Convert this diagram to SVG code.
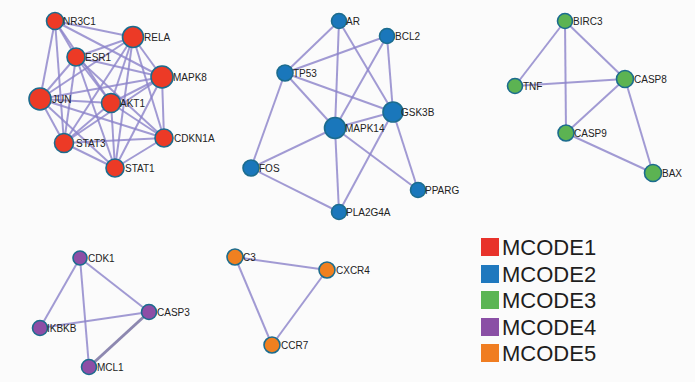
<svg xmlns="http://www.w3.org/2000/svg" width="695" height="382" viewBox="0 0 695 382">
<style>
.bg{fill:#fbfbfb}
.e{stroke:#8b82c9;stroke-width:2;stroke-opacity:0.8;fill:none}
.n{stroke:#1c6c8e;stroke-width:1.6}
.r{fill:#ec3a26}
.b{fill:#1a77bb}
.g{fill:#5cb352}
.p{fill:#8d4ea6}
.o{fill:#f08020}
.t{font-family:"Liberation Sans",Arial,sans-serif;font-size:10px;fill:#222}
.lg{font-family:"Liberation Sans",Arial,sans-serif;font-size:22px;fill:#1e1e1e}
</style>
<rect class="bg" x="0" y="0" width="695" height="382"/>
<g id="connectors">
<!-- cluster 1 -->
<line class="e" x1="55" y1="21" x2="133" y2="37"/>
<line class="e" x1="55" y1="21" x2="162" y2="77"/>
<line class="e" x1="55" y1="21" x2="40" y2="99"/>
<line class="e" x1="55" y1="21" x2="111" y2="103"/>
<line class="e" x1="55" y1="21" x2="76" y2="57"/>
<line class="e" x1="55" y1="21" x2="64" y2="143"/>
<line class="e" x1="133" y1="37" x2="76" y2="57"/>
<line class="e" x1="133" y1="37" x2="162" y2="77"/>
<line class="e" x1="133" y1="37" x2="40" y2="99"/>
<line class="e" x1="133" y1="37" x2="111" y2="103"/>
<line class="e" x1="133" y1="37" x2="64" y2="143"/>
<line class="e" x1="133" y1="37" x2="164" y2="138"/>
<line class="e" x1="133" y1="37" x2="115" y2="168"/>
<line class="e" x1="76" y1="57" x2="162" y2="77"/>
<line class="e" x1="76" y1="57" x2="40" y2="99"/>
<line class="e" x1="76" y1="57" x2="111" y2="103"/>
<line class="e" x1="76" y1="57" x2="64" y2="143"/>
<line class="e" x1="76" y1="57" x2="164" y2="138"/>
<line class="e" x1="76" y1="57" x2="115" y2="168"/>
<line class="e" x1="162" y1="77" x2="40" y2="99"/>
<line class="e" x1="162" y1="77" x2="111" y2="103"/>
<line class="e" x1="162" y1="77" x2="64" y2="143"/>
<line class="e" x1="162" y1="77" x2="164" y2="138"/>
<line class="e" x1="162" y1="77" x2="115" y2="168"/>
<line class="e" x1="40" y1="99" x2="111" y2="103"/>
<line class="e" x1="40" y1="99" x2="64" y2="143"/>
<line class="e" x1="40" y1="99" x2="115" y2="168"/>
<line class="e" x1="40" y1="99" x2="164" y2="138"/>
<line class="e" x1="111" y1="103" x2="64" y2="143"/>
<line class="e" x1="111" y1="103" x2="115" y2="168"/>
<line class="e" x1="111" y1="103" x2="164" y2="138"/>
<line class="e" x1="64" y1="143" x2="115" y2="168"/>
<line class="e" x1="64" y1="143" x2="164" y2="138"/>
<line class="e" x1="115" y1="168" x2="164" y2="138"/>
<!-- cluster 2 -->
<line class="e" x1="339" y1="21" x2="285" y2="73"/>
<line class="e" x1="339" y1="21" x2="335" y2="128"/>
<line class="e" x1="339" y1="21" x2="393" y2="112"/>
<line class="e" x1="387" y1="36" x2="285" y2="73"/>
<line class="e" x1="387" y1="36" x2="335" y2="128"/>
<line class="e" x1="387" y1="36" x2="393" y2="112"/>
<line class="e" x1="285" y1="73" x2="251" y2="168"/>
<line class="e" x1="285" y1="73" x2="335" y2="128"/>
<line class="e" x1="285" y1="73" x2="393" y2="112"/>
<line class="e" x1="335" y1="128" x2="393" y2="112"/>
<line class="e" x1="335" y1="128" x2="251" y2="168"/>
<line class="e" x1="335" y1="128" x2="339" y2="212"/>
<line class="e" x1="335" y1="128" x2="418" y2="190"/>
<line class="e" x1="393" y1="112" x2="418" y2="190"/>
<line class="e" x1="393" y1="112" x2="339" y2="212"/>
<line class="e" x1="251" y1="168" x2="339" y2="212"/>
<!-- cluster 3 -->
<line class="e" x1="565" y1="21" x2="515" y2="86"/>
<line class="e" x1="565" y1="21" x2="566" y2="133"/>
<line class="e" x1="565" y1="21" x2="625" y2="79"/>
<line class="e" x1="515" y1="86" x2="625" y2="79"/>
<line class="e" x1="625" y1="79" x2="566" y2="133"/>
<line class="e" x1="625" y1="79" x2="653" y2="173"/>
<line class="e" x1="566" y1="133" x2="653" y2="173"/>
<!-- cluster 4 -->
<line class="e" x1="80" y1="258" x2="40" y2="328"/>
<line class="e" x1="80" y1="258" x2="89" y2="367"/>
<line class="e" x1="80" y1="258" x2="149" y2="312"/>
<line class="e" x1="40" y1="328" x2="149" y2="312"/>
<line class="e" x1="149" y1="312" x2="89" y2="367" style="stroke:#726c9e;stroke-width:3"/>
<!-- cluster 5 -->
<line class="e" x1="235" y1="257" x2="327" y2="270"/>
<line class="e" x1="235" y1="257" x2="272" y2="345"/>
<line class="e" x1="327" y1="270" x2="272" y2="345"/>
</g>
<g id="n-NR3C1"><circle class="n r" cx="55" cy="21" r="8.5"/><text class="t" x="63" y="25">NR3C1</text></g>
<g id="n-RELA"><circle class="n r" cx="133" cy="37" r="10.5"/><text class="t" x="144" y="41">RELA</text></g>
<g id="n-ESR1"><circle class="n r" cx="76" cy="57" r="9"/><text class="t" x="85" y="61">ESR1</text></g>
<g id="n-MAPK8"><circle class="n r" cx="162" cy="77" r="11"/><text class="t" x="173" y="81">MAPK8</text></g>
<g id="n-JUN"><circle class="n r" cx="40" cy="99" r="11"/><text class="t" x="52" y="103">JUN</text></g>
<g id="n-AKT1"><circle class="n r" cx="111" cy="103" r="9.5"/><text class="t" x="120" y="107">AKT1</text></g>
<g id="n-STAT3"><circle class="n r" cx="64" cy="143" r="9.5"/><text class="t" x="76" y="147">STAT3</text></g>
<g id="n-CDKN1A"><circle class="n r" cx="164" cy="138" r="9"/><text class="t" x="174" y="142">CDKN1A</text></g>
<g id="n-STAT1"><circle class="n r" cx="115" cy="168" r="9"/><text class="t" x="125" y="172">STAT1</text></g>

<g id="n-AR"><circle class="n b" cx="339" cy="21" r="7.5"/><text class="t" x="346" y="25">AR</text></g>
<g id="n-BCL2"><circle class="n b" cx="387" cy="36" r="7.5"/><text class="t" x="395" y="40">BCL2</text></g>
<g id="n-TP53"><circle class="n b" cx="285" cy="73" r="8"/><text class="t" x="293" y="77">TP53</text></g>
<g id="n-GSK3B"><circle class="n b" cx="393" cy="112" r="10"/><text class="t" x="401" y="116">GSK3B</text></g>
<g id="n-MAPK14"><circle class="n b" cx="335" cy="128" r="10.5"/><text class="t" x="345" y="132">MAPK14</text></g>
<g id="n-FOS"><circle class="n b" cx="251" cy="168" r="8"/><text class="t" x="259" y="172">FOS</text></g>
<g id="n-PPARG"><circle class="n b" cx="418" cy="190" r="7.5"/><text class="t" x="425" y="194">PPARG</text></g>
<g id="n-PLA2G4A"><circle class="n b" cx="339" cy="212" r="7.5"/><text class="t" x="346" y="216">PLA2G4A</text></g>

<g id="n-BIRC3"><circle class="n g" cx="565" cy="21" r="7.5"/><text class="t" x="573" y="25">BIRC3</text></g>
<g id="n-TNF"><circle class="n g" cx="515" cy="86" r="7.5"/><text class="t" x="523" y="90">TNF</text></g>
<g id="n-CASP8"><circle class="n g" cx="625" cy="79" r="8.5"/><text class="t" x="634" y="83">CASP8</text></g>
<g id="n-CASP9"><circle class="n g" cx="566" cy="133" r="8"/><text class="t" x="574" y="137">CASP9</text></g>
<g id="n-BAX"><circle class="n g" cx="653" cy="173" r="8.5"/><text class="t" x="662" y="177">BAX</text></g>

<g id="n-CDK1"><circle class="n p" cx="80" cy="258" r="7"/><text class="t" x="88" y="262">CDK1</text></g>
<g id="n-CASP3"><circle class="n p" cx="149" cy="312" r="7.5"/><text class="t" x="157" y="316">CASP3</text></g>
<g id="n-IKBKB"><circle class="n p" cx="40" cy="328" r="7.5"/><text class="t" x="47" y="332">IKBKB</text></g>
<g id="n-MCL1"><circle class="n p" cx="89" cy="367" r="7.5"/><text class="t" x="97" y="371">MCL1</text></g>

<g id="n-C3"><circle class="n o" cx="235" cy="257" r="8"/><text class="t" x="243" y="261">C3</text></g>
<g id="n-CXCR4"><circle class="n o" cx="327" cy="270" r="8"/><text class="t" x="336" y="274">CXCR4</text></g>
<g id="n-CCR7"><circle class="n o" cx="272" cy="345" r="8"/><text class="t" x="281" y="349">CCR7</text></g>

<g id="legend">
<rect x="481" y="238" width="18" height="18" fill="#e8322b"/>
<text class="lg" x="502" y="255">MCODE1</text>
<rect x="481" y="265" width="18" height="18" fill="#1f78be"/>
<text class="lg" x="502" y="282">MCODE2</text>
<rect x="481" y="291" width="18" height="18" fill="#5bb554"/>
<text class="lg" x="502" y="308">MCODE3</text>
<rect x="481" y="318" width="18" height="18" fill="#8a4fa5"/>
<text class="lg" x="502" y="335">MCODE4</text>
<rect x="481" y="344" width="18" height="18" fill="#f07d21"/>
<text class="lg" x="502" y="361">MCODE5</text>
</g>
</svg>
